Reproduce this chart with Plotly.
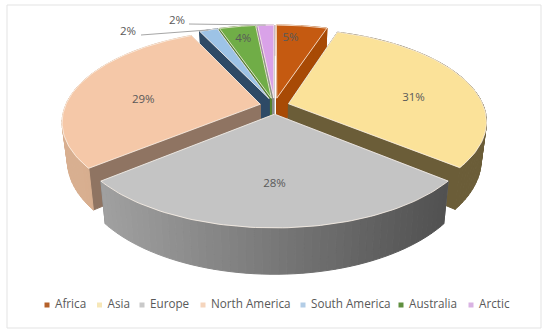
import numpy as np
import plotly.graph_objects as go

continents = ['Africa', 'Asia', 'Europe', 'North America', 'South America', 'Australia', 'Arctic']
shares = [5.0, 31.0, 28.0, 29.0, 1.8, 3.6, 1.6]

top_colors = ['#c55a11', '#fbe299', '#c4c4c4', '#f5c8a8', '#9dc3e6', '#70ad47', '#d9a2e8']
cut_colors = ['#a84a05', '#6b5d38', '#777777', '#8f7462', '#2e4a66', '#55832f', '#8d8d8d']
wall_left = ['#a84a05', '#6b5d38', '#ababab', '#d9b091', '#2e4a66', '#55832f', '#a679b3']
wall_right = ['#a84a05', '#6b5d38', '#484848', '#c79c7d', '#2e4a66', '#55832f', '#a679b3']
legend_colors = ['#b5612a', '#f6e7b8', '#c9c9c9', '#f5d5bd', '#b3cde6', '#5f8f3f', '#d9b3e3']
legend_x = [47, 99.5, 142, 203, 303, 401, 471]

# painter's order, back of the pie first
draw_order = [6, 5, 4, 0, 3, 1, 2]

CX, CY = 274.5, 106
A, B, PERSP = 195, 89.3, 0.185
PULL_U, PULL_V = 0.075, 0.09
DEPTH = 37
TEXT_COLOR = '#595959'
FONT = 'Open Sans'

edges = np.concatenate([[0], np.cumsum(shares)]) / sum(shares) * 2 * np.pi


def project(theta, r, mid):
    u = r * np.sin(theta) + PULL_U * np.sin(mid)
    v = -r * np.cos(theta) - PULL_V * np.cos(mid)
    s = 1 / (1 - PERSP * v)
    return CX + A * u * s, CY + B * v * s, s


def lower(x, y, s):
    return CX + (x - CX) * 0.975, y + DEPTH * s


def blend(c1, c2, t):
    a = [int(c1[i:i + 2], 16) for i in (1, 3, 5)]
    b = [int(c2[i:i + 2], 16) for i in (1, 3, 5)]
    return 'rgb(%d,%d,%d)' % tuple(a[k] + (b[k] - a[k]) * t for k in range(3))


def poly(x, y, color, line=None):
    return go.Scatter(x=list(x) + [x[0]], y=list(y) + [y[0]], mode='lines', fill='toself', fillcolor=color,
                      line=dict(color=line or color, width=1), hoverinfo='skip', showlegend=False)


fig = go.Figure()

for i in draw_order:
    start, end = edges[i], edges[i + 1]
    mid = (start + end) / 2

    # cut faces
    for a in (start, end):
        x0, y0, s0 = project(a, 0, mid)
        x1, y1, s1 = project(a, 1, mid)
        bx0, by0 = lower(x0, y0, s0)
        bx1, by1 = lower(x1, y1, s1)
        fig.add_trace(poly([x0, x1, bx1, bx0], [y0, y1, by1, by0], cut_colors[i]))

    # outer wall, cut in strips for the shading
    angles = np.linspace(start, end, max(3, int((end - start) * 30)))
    for a0, a1 in zip(angles[:-1], angles[1:]):
        x0, y0, s0 = project(a0, 1, mid)
        x1, y1, s1 = project(a1, 1, mid)
        bx0, by0 = lower(x0, y0, s0)
        bx1, by1 = lower(x1, y1, s1)
        t = np.clip((487 - x0) / 425, 0, 1)
        fig.add_trace(poly([x0, x1, bx1, bx0], [y0, y1, by1, by0], blend(wall_right[i], wall_left[i], t)))

    # top of the slice
    arc = np.linspace(start, end, 80)
    xs, ys, _ = project(arc, 1, mid)
    tx, ty, _ = project(start, 0, mid)
    fig.add_trace(poly([tx] + list(xs), [ty] + list(ys), top_colors[i], line='rgba(255,245,235,0.8)'))

# value labels on the slices: radius and angle shift (degrees) from the middle of the slice
label_r = [0.8, 0.655, 0.66, 0.61, None, 0.8, None]
label_shift = [-3, 11, 0, -8, 0, 0, 0]
for i, r in enumerate(label_r):
    if r is None:
        continue
    mid = (edges[i] + edges[i + 1]) / 2
    x, y, _ = project(mid + np.radians(label_shift[i]), r, mid)
    fig.add_trace(go.Scatter(x=[x], y=[y], mode='text', text=['%d%%' % round(shares[i])], hoverinfo='skip',
                             showlegend=False, textfont=dict(family=FONT, size=11.5, color=TEXT_COLOR)))

# the two small slices get a leader line
outside = {4: (128, 32, 141), 6: (177, 21, 189)}
for i, (lx, ly, start_x) in outside.items():
    mid = (edges[i] + edges[i + 1]) / 2
    x, y, _ = project(mid, 1, mid)
    fig.add_trace(go.Scatter(x=[start_x, x], y=[ly + 3, y], mode='lines', line=dict(color='#a6a6a6', width=1),
                             hoverinfo='skip', showlegend=False))
    fig.add_trace(go.Scatter(x=[lx], y=[ly], mode='text', text=['%d%%' % round(shares[i])], hoverinfo='skip',
                             showlegend=False, textfont=dict(family=FONT, size=11.5, color=TEXT_COLOR)))

# legend row
fig.add_trace(go.Scatter(x=legend_x, y=[305] * len(legend_x), mode='markers', hoverinfo='skip', showlegend=False,
                         marker=dict(symbol='square', size=5, color=legend_colors)))
fig.add_trace(go.Scatter(x=[x + 8 for x in legend_x], y=[305] * len(legend_x), mode='text', text=continents,
                         textposition='middle right', hoverinfo='skip', showlegend=False,
                         textfont=dict(family=FONT, size=11.7, color=TEXT_COLOR)))

fig.update_layout(
    width=550,
    height=336,
    margin=dict(l=0, r=0, t=0, b=0),
    paper_bgcolor='white',
    plot_bgcolor='white',
    showlegend=False,
    xaxis=dict(range=[0, 550], visible=False, fixedrange=True),
    yaxis=dict(range=[336, 0], visible=False, fixedrange=True),
    shapes=[dict(type='rect', xref='x', yref='y', x0=7, y0=5, x1=541, y1=328, layer='below',
                 line=dict(color='#e3e3e3', width=1))],
)

fig.write_html('out.html', config=dict(displayModeBar=False), post_script="document.body.style.margin='0';")
